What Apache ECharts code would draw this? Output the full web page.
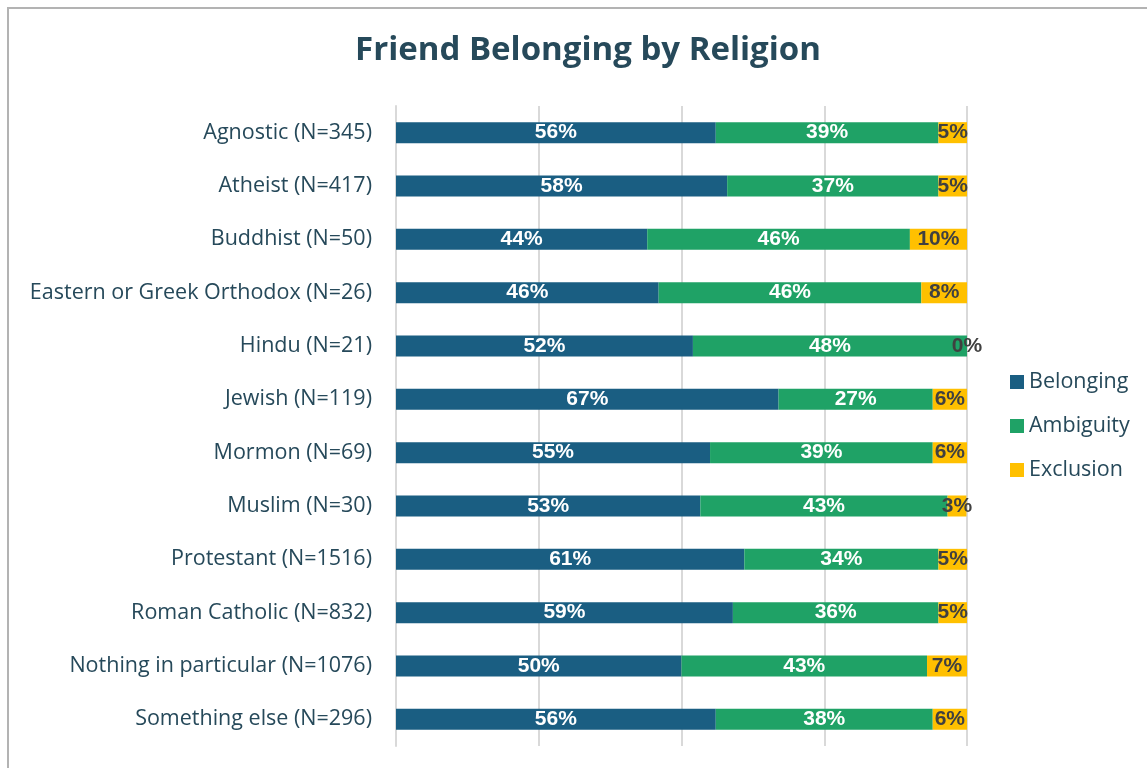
<!DOCTYPE html>
<html>
<head>
<meta charset="utf-8">
<script src="https://cdn.jsdelivr.net/npm/echarts@6/dist/echarts.min.js"></script>
<style>
  html, body { margin: 0; padding: 0; background: #fff; }
  #chart { width: 1147px; height: 768px; }
  .frame {
    position: absolute; left: 7px; top: 7px;
    width: 1200px; height: 800px;
    border: 2px solid #b3b3b3;
    pointer-events: none;
  }
</style>
</head>
<body>
<div id="chart"></div>
<div class="frame"></div>
<script>
const categories = [
  'Agnostic (N=345)',
  'Atheist (N=417)',
  'Buddhist (N=50)',
  'Eastern or Greek Orthodox (N=26)',
  'Hindu (N=21)',
  'Jewish (N=119)',
  'Mormon (N=69)',
  'Muslim (N=30)',
  'Protestant (N=1516)',
  'Roman Catholic (N=832)',
  'Nothing in particular (N=1076)',
  'Something else (N=296)'
];
const belonging = [56, 58, 44, 46, 52, 67, 55, 53.3, 61, 59, 50, 56];
const ambiguity = [39, 37, 46, 46, 48, 27, 39, 43.3, 34, 36, 43, 38];
const exclusion = [5, 5, 10, 8, 0, 6, 6, 3.3, 5, 5, 7, 6];

const chart = echarts.init(document.getElementById('chart'));

function barSeries(name, data, color, labelColor) {
  return {
    name: name,
    type: 'bar',
    stack: 'total',
    data: data,
    barWidth: 21,
    itemStyle: { color: color },
    label: {
      show: true,
      position: 'inside',
      formatter: p => Math.round(p.value) + '%',
      color: labelColor,
      fontFamily: 'Liberation Sans, Arial, sans-serif',
      fontWeight: 'bold',
      fontSize: 21
    }
  };
}

chart.setOption({
  animation: false,
  title: {
    text: 'Friend Belonging by Religion',
    left: 583,
    textAlign: 'center',
    top: 29,
    textStyle: {
      fontFamily: 'Open Sans',
      fontWeight: 'bold',
      fontSize: 33,
      color: '#26495a'
    }
  },
  legend: {
    orient: 'vertical',
    left: 1005,
    top: 366,
    itemWidth: 14,
    itemHeight: 14,
    itemGap: 22,
    icon: 'rect',
    textStyle: {
      fontFamily: 'Open Sans',
      fontSize: 21.5,
      color: '#26495a',
      padding: [0, 0, 0, 0]
    },
    data: ['Belonging', 'Ambiguity', 'Exclusion']
  },
  grid: {
    left: 396,
    right: 180,
    top: 106,
    bottom: 22,
    containLabel: false
  },
  xAxis: {
    type: 'value',
    min: 0,
    max: 100,
    interval: 25,
    axisLabel: { show: false },
    axisLine: { show: false },
    axisTick: { show: false },
    splitLine: { lineStyle: { color: '#d9d9d9', width: 2 } }
  },
  yAxis: {
    type: 'category',
    inverse: true,
    data: categories,
    axisTick: { show: false },
    axisLine: { show: true, lineStyle: { color: '#d9d9d9', width: 2 } },
    axisLabel: {
      margin: 24,
      fontFamily: 'Open Sans',
      fontSize: 21.5,
      color: '#26495a'
    }
  },
  series: [
    barSeries('Belonging', belonging, '#1a5e82', '#ffffff'),
    barSeries('Ambiguity', ambiguity, '#1fa266', '#ffffff'),
    barSeries('Exclusion', exclusion, '#ffc000', '#404040')
  ]
});
</script>
</body>
</html>
